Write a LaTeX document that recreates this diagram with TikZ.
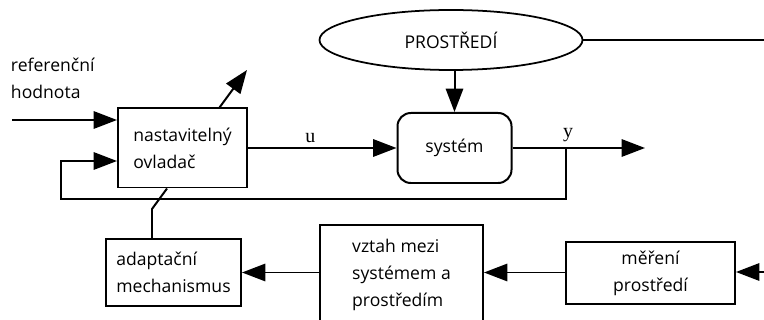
\documentclass[tikz,border=0pt]{standalone}
\usepackage{fontspec}
\setmainfont{Open Sans}
\newfontfamily\patkove{Liberation Serif}
\usetikzlibrary{shapes.geometric, arrows.meta, positioning, calc}

\begin{document}
\begin{tikzpicture}[
  x=0.03cm, y=-0.03cm,
  blok/.style={rectangle, draw, line width=1.7pt, align=left, font=\fontsize{15}{23}\selectfont},
  sipka/.style={-{Triangle[length=0.7cm, width=0.52cm]}, line width=1.7pt},
  cara/.style={line width=1.7pt},
  pismeno/.style={font=\patkove\fontsize{17}{17}\selectfont},
]
\clip (0,0) rectangle (764,320);

% Top: environment
\node[ellipse, draw, line width=1.5pt, minimum width=7.89cm, minimum height=1.8cm, font=\fontsize{15}{23}\selectfont] (prostredi) at (451,40) {PROSTŘEDÍ};

% Middle row: controller and system
\node[blok, minimum width=3.87cm, minimum height=2.37cm] (ovladac) at (182.5,148) {nastavitelný\\ovladač};
\node[blok, rounded corners=0.4cm, align=center, minimum width=3.42cm, minimum height=2.1cm] (system) at (454.5,148) {systém};

% Bottom row: adaptation, relation, measurement
\node[blok, minimum width=4.05cm, minimum height=2.01cm] (adapt) at (173.5,272.5) {adaptační\\mechanismus};
\node[blok, minimum width=4.89cm, minimum height=3.0cm] (vztah) at (401.5,275) {vztah mezi\\systémem a\\prostředím};
\node[blok, align=center, minimum width=5.07cm, minimum height=1.86cm] (mereni) at (650.5,273) {měření\\prostředí};

% Reference input label
\node[blok, draw=none, anchor=north west, inner sep=0pt] (refpopis) at (10,57) {referenční\\hodnota};

% Free ends
\coordinate (vstup) at (12,120);
\coordinate (okraj) at (764,40);
\coordinate (vystup) at (645,148);
\coordinate (odbocka) at (566,148);
\coordinate (zpet) at (61,199);
\coordinate (sikmo) at (247,70);
\coordinate (merenivstup) at (764,272);

% Main loop
\draw[sipka] (vstup) -- (vstup -| ovladac.west);
\draw[sipka] (ovladac) -- node[pismeno, above, pos=0.42] (u) {u} (system);
\draw[sipka] (prostredi.south -| system.north) -- (system.north);
\draw[cara] (prostredi.east) -- (okraj);
\draw[sipka] (system) -- (vystup);
\node[pismeno, above] (y) at ($(odbocka)+(2,-2)$) {y};
\draw[sipka] (odbocka) |- (zpet) |- ($(ovladac.west)+(0,13)$);
\draw[sipka] ($(ovladac.north)+(37,0)$) -- (sikmo);

% Adaptation path
\draw[cara] ($(adapt.north)+(-21.5,0)$) -- ++(0,-29) -- ($(ovladac.south)+(-15.5,0)$);
\draw[sipka] (vztah.west |- adapt.east) -- (adapt.east);
\draw[sipka] (mereni.west |- adapt.east) -- (vztah.east |- adapt.east);
\draw[sipka] (merenivstup) -- (merenivstup -| mereni.east);
\end{tikzpicture}
\end{document}
